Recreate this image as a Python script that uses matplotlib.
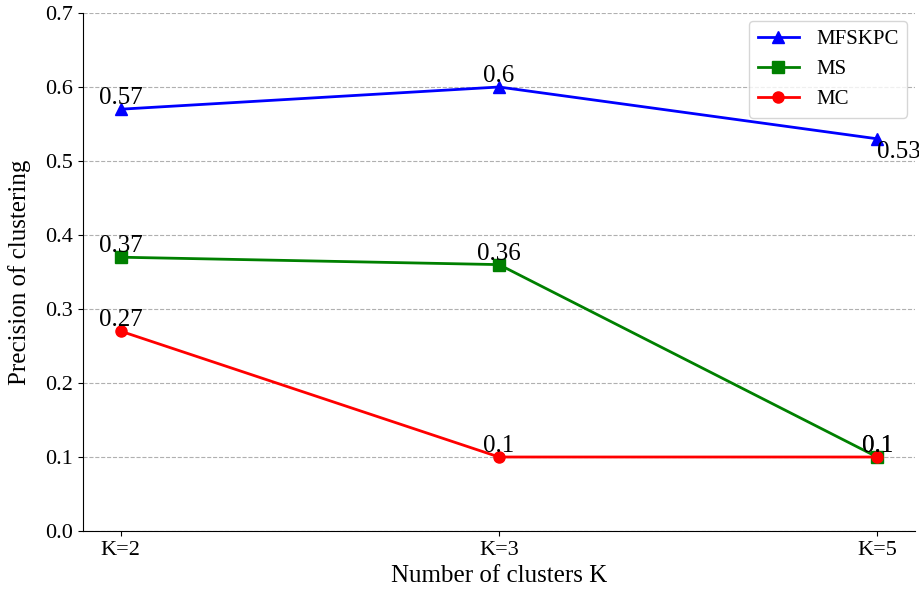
import matplotlib
matplotlib.use('Agg')
import matplotlib.pyplot as plt

plt.rcParams['font.family'] = ['Liberation Serif', 'DejaVu Serif']

categories = ['K=2', 'K=3', 'K=5']
mfskpc = [0.57, 0.6, 0.53]
ms = [0.37, 0.36, 0.1]
mc = [0.27, 0.1, 0.1]

fig = plt.figure(figsize=(9.2, 5.99), dpi=100)
ax = fig.add_axes([0.0902, 0.1135, 0.9044, 0.8648])

x = list(range(len(categories)))
ax.plot(x, mfskpc, color='blue', marker='^', markersize=8, lw=2, label='MFSKPC')
ax.plot(x, ms, color='green', marker='s', markersize=8, lw=2, label='MS')
ax.plot(x, mc, color='red', marker='o', markersize=8, lw=2, label='MC')

# value labels
for series in [mfskpc, ms, mc]:
    for i, v in enumerate(series):
        if series is mfskpc and i == 2:
            ax.text(i, v - 0.003, str(v), ha='left', va='top', fontsize=18)
        else:
            ax.text(i, v, str(v), ha='center', va='bottom', fontsize=18)

ax.set_xticks(x)
ax.set_xticklabels(categories)
ax.set_ylim(0, 0.7)
ax.tick_params(labelsize=16)
ax.set_xlabel('Number of clusters K', fontsize=18)
ax.set_ylabel('Precision of clustering', fontsize=18, labelpad=10)
ax.yaxis.grid(True, linestyle='--', color='#b0b0b0')
ax.set_axisbelow(True)
ax.spines['top'].set_visible(False)
ax.spines['right'].set_visible(False)
ax.legend(loc='upper right', fontsize=15, borderaxespad=0.4)

fig.savefig('out.png', dpi=100)
